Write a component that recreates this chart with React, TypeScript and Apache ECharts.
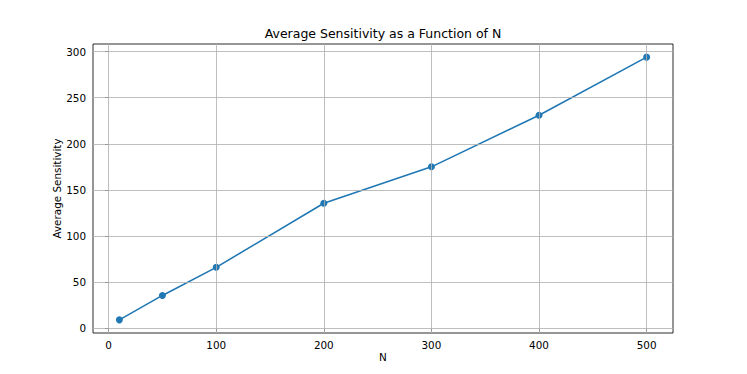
import React, { useEffect, useRef } from "react";
import * as echarts from "echarts";

const nValues = [10, 50, 100, 200, 300, 400, 500];
const sensitivity = [9, 35.5, 66, 135.5, 175, 231, 294];
const xTicks = [0, 100, 200, 300, 400, 500];
const yTicks = [0, 50, 100, 150, 200, 250, 300];
const titleText = "Average Sensitivity as a Function of N";
const xName = "N";
const yName = "Average Sensitivity";

const FONT = "DejaVu Sans";

export default function App() {
  const ref = useRef<HTMLDivElement>(null);
  useEffect(() => {
    if (!ref.current) return;
    const chart = echarts.init(ref.current, null, { renderer: "svg" });
    const gridLine = { color: "#b0b0b0", width: 0.83, type: "solid" as const };
    chart.setOption({
      animation: false,
      backgroundColor: "#fff",
      title: {
        text: titleText,
        left: 383,
        top: 27,
        textAlign: "center",
        padding: 0,
        textStyle: { fontFamily: FONT, fontSize: 12.5, fontWeight: "normal", color: "#000" },
      },
      grid: {
        left: 93,
        right: 74,
        top: 44,
        bottom: 41,
        show: true,
        borderColor: "#000",
        borderWidth: 0.83,
        backgroundColor: "transparent",
      },
      xAxis: {
        type: "value",
        min: -14.5,
        max: 524.5,
        name: xName,
        nameLocation: "middle",
        nameGap: 19,
        nameMoveOverlap: false,
        nameTextStyle: { fontFamily: FONT, fontSize: 10.4, color: "#000", verticalAlign: "top" },
        axisLine: { show: false },
        axisTick: { show: true, inside: false, length: 3.6, customValues: xTicks, lineStyle: { color: "#000", width: 0.83 } },
        axisLabel: { customValues: xTicks, margin: 7, fontFamily: FONT, fontSize: 10.4, color: "#000" },
        splitLine: { show: false },
      },
      yAxis: {
        type: "value",
        min: -5.25,
        max: 308.25,
        name: yName,
        nameLocation: "middle",
        nameGap: 31,
        nameMoveOverlap: false,
        nameRotate: 90,
        nameTextStyle: { fontFamily: FONT, fontSize: 10.4, color: "#000" },
        axisLine: { show: false },
        axisTick: { show: true, inside: false, length: 3.6, customValues: yTicks, lineStyle: { color: "#000", width: 0.83 } },
        axisLabel: { customValues: yTicks, margin: 7, fontFamily: FONT, fontSize: 10.4, color: "#000" },
        splitLine: { show: false },
      },
      series: [
        {
          type: "line",
          data: [],
          silent: true,
          z: 1,
          markLine: {
            silent: true,
            symbol: "none",
            label: { show: false },
            lineStyle: gridLine,
            emphasis: { disabled: true },
            data: [
              ...xTicks.map((v) => ({ xAxis: v })),
              ...yTicks.map((v) => ({ yAxis: v })),
            ],
          },
        },
        {
          type: "line",
          z: 3,
          data: nValues.map((n, i) => [n, sensitivity[i]]),
          symbol: "circle",
          symbolSize: 7,
          showSymbol: true,
          lineStyle: { color: "#1f77b4", width: 1.56 },
          itemStyle: { color: "#1f77b4", borderWidth: 0 },
        },
      ],
    });
    return () => chart.dispose();
  }, []);
  return <div ref={ref} style={{ width: 747, height: 374, margin: -8 }} />;
}
